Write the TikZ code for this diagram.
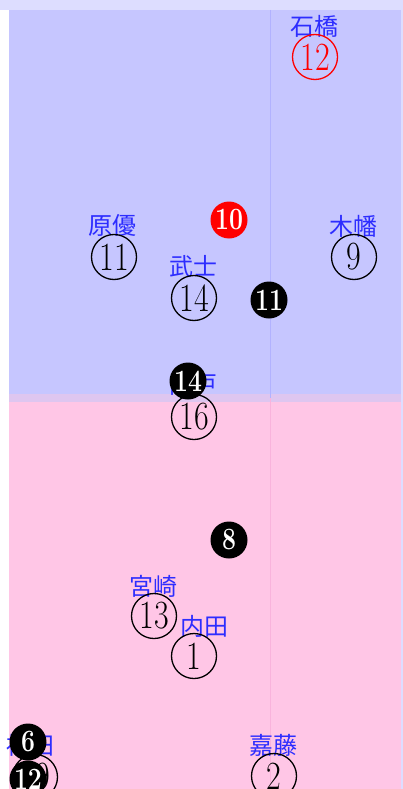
\documentclass[tikz,border=0pt]{standalone}
\usepackage{fontspec}
\newfontfamily\cjk{Noto Sans CJK JP}
\usepackage{tikz}

\definecolor{topband}{RGB}{221,221,255}
\definecolor{ownhalf}{RGB}{198,198,255}
\definecolor{opphalf}{RGB}{255,198,230}
\definecolor{midband}{RGB}{222,198,240}
\definecolor{namecol}{RGB}{45,45,255}

\newcommand{\pnum}[1]{\scalebox{0.8}[1]{#1}}

\tikzset{
    player/.style={circle, draw, line width=1.3pt, minimum size=45pt, inner sep=0pt,
        font=\fontsize{40}{40}\selectfont},
    subst/.style={circle, fill=black, minimum size=37pt, inner sep=0pt, text=white,
        font=\bfseries\fontsize{31}{31}\selectfont},
    pname/.style={text=namecol, inner sep=0pt, font=\cjk\fontsize{24}{24}\selectfont},
}

\begin{document}
\begin{tikzpicture}[x=1pt, y=-1pt]
    \def\lx{270}
    \useasboundingbox (0,0) rectangle (403,789);

    % Поле
    \fill[topband] (0,0) rectangle (403,10);
    \fill[topband] (401,0) rectangle (403,789);
    \fill[ownhalf] (9,10) rectangle (401,394);
    \fill[midband] (9,394) rectangle (401,402);
    \fill[opphalf] (9,402) rectangle (401,789);
    \draw[blue!30, line width=0.8pt] (\lx,10) -- (\lx,398);
    \draw[magenta!30, line width=0.8pt] (\lx,398) -- (\lx,789);

    % Фамилии
    \node[pname] (n12) at (314,26) {石橋};
    \node[pname] (n11) at (112,225) {原優};
    \node[pname] (n9) at (353,226) {木幡};
    \node[pname] (n14) at (193,266) {武士};
    \node[pname] (n16) at (193,385) {岡戸};
    \node[pname] (n13) at (153,586) {宮崎};
    \node[pname] (n1) at (204,626) {内田};
    \node[pname] (n19) at (30,745) {福田};
    \node[pname] (n2) at (273,745) {嘉藤};

    % Игроки
    \node[player, red] (p12) at (315,57) {\pnum{12}};
    \node[player] (p11) at (114,257) {\pnum{11}};
    \node[player] (p9) at (354,257) {\pnum{9}};
    \node[player] (p14) at (194,298) {\pnum{14}};
    \node[player] (p16) at (194,417) {\pnum{16}};
    \node[player] (p13) at (154,616) {\pnum{13}};
    \node[player] (p1) at (194,656) {\pnum{1}};
    \node[player] (p19) at (35,777) {\pnum{19}};
    \node[player] (p2) at (274,776) {\pnum{2}};

    % Замены
    \node[subst, fill=red] (s10) at (229,220) {\pnum{10}};
    \node[subst] (s11) at (269,300) {\pnum{11}};
    \node[subst] (s14) at (188,381) {\pnum{14}};
    \node[subst] (s8) at (229,540) {\pnum{8}};
    \node[subst] (s6) at (28,742) {\pnum{6}};
    \node[subst] (s12) at (28,779) {\pnum{12}};

\end{tikzpicture}
\end{document}
